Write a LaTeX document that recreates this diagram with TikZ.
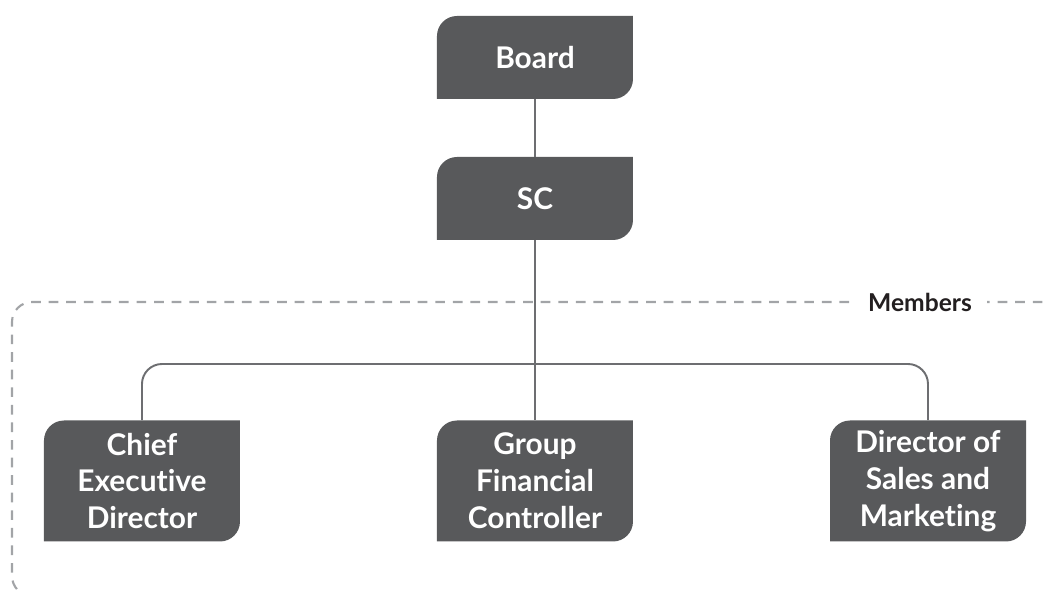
\documentclass[tikz,border=0pt]{standalone}
\usepackage{fontspec}
\setmainfont{Lato}[Ligatures=NoCommon]
\usepackage{tikz}

\definecolor{boxgray}{HTML}{58595B}
\definecolor{linegray}{HTML}{6D6E71}
\definecolor{dashgray}{HTML}{A2A4A7}
\definecolor{inkblack}{HTML}{231F20}

\begin{document}
\begin{tikzpicture}[
                node distance=2.82cm,         % Board 到 SC 的间距
                role/.style={
                    text=white,
                    font=\fontsize{17}{21}\selectfont\bfseries,
                    align=center,
                    inner sep=0pt,
                    minimum width=3.92cm,
                    minimum height=1.66cm,
                    path picture={            % 左上、右下圆角
                        \fill[boxgray] (path picture bounding box.south west)
                            -- ([yshift=-0.4cm]path picture bounding box.north west)
                            arc[start angle=180, end angle=90, radius=0.4cm]
                            -- (path picture bounding box.north east)
                            -- ([yshift=0.4cm]path picture bounding box.south east)
                            arc[start angle=0, end angle=-90, radius=0.4cm]
                            -- cycle;
                    }
                },
                member/.style={role, minimum height=2.42cm},
                link/.style={draw=linegray, line width=1.1pt},
                membersframe/.style={draw=dashgray, line width=1.2pt,
                    dash pattern=on 5.5pt off 4.5pt, rounded corners=0.4cm}
            ]
                \useasboundingbox (-10.70,1.15) rectangle (10.22,-10.69);

                % 节点
                \node[role] (board) {Board};
                \node[role] (sc) [below of=board] {SC};
                \node[member] (gfc) [node distance=5.65cm, below of=sc] {Group\\Financial\\Controller};
                \node[member] (ced) [node distance=7.86cm, left of=gfc] {Chief\\Executive\\Director};
                \node[member] (dsm) [node distance=7.86cm, right of=gfc] {Director of\\Sales and\\Marketing};
                \coordinate (branch) at (0,-6.13);

                % 虚线框
                \begin{scope}
                    \clip (-10.70,1.15) rectangle (10.22,-10.69);
                    \draw[membersframe] (10.5,-4.89) -- (-10.46,-4.89) -- (-10.46,-10.77) -- (0,-10.77);
                \end{scope}
                \node[fill=white, text=inkblack, inner xsep=0.3cm,
                      font=\fontsize{14}{16}\selectfont\bfseries] (members) at (7.7,-4.89) {Members};

                % 边
                \draw[link] (board) -- (sc);
                \draw[link] (sc) -- (gfc);
                \draw[link, rounded corners=0.4cm] (ced) |- (branch) -| (dsm);
            \end{tikzpicture}
\end{document}
